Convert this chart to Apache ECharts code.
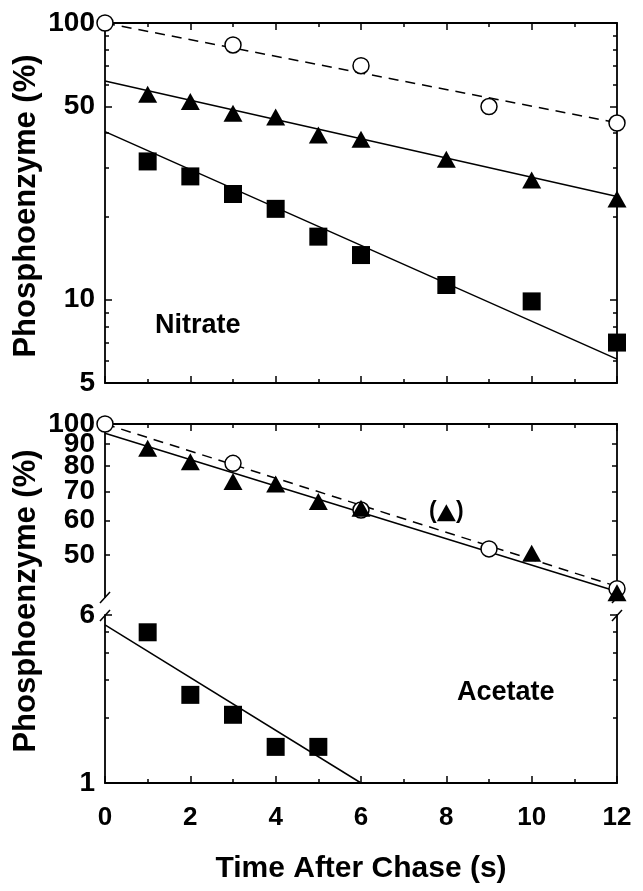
<!DOCTYPE html>
<html><head><meta charset="utf-8">
<script src="https://cdn.jsdelivr.net/npm/echarts@6/dist/echarts.min.js"></script>
<style>html,body{margin:0;padding:0;background:#fff}#c{width:643px;height:891px}</style>
</head><body><div id="c"></div>
<script>
// ---------- DATA ----------
// Nitrate panel
const nitCircles   = [[0,100],[3,83.3],[6,70.1],[9,49.9],[12,43.5]];
const nitCircleFit = [[0,100],[12,43.6]];
const nitTriangles = [[1,55.3],[2,52],[3,47.2],[4,45.7],[5,39.4],[6,38],[8,32.2],[10,27.1],[12,23.1]];
const nitTriFit    = [[0,61.7],[12,23.6]];
const nitSquares   = [[1,31.6],[2,27.9],[3,24.1],[4,21.3],[5,16.9],[6,14.5],[8,11.3],[10,9.86],[12,7.0]];
const nitSqFit     = [[0,40.5],[12,6.1]];
// Acetate panel (upper part)
const aceCircles   = [[0,100],[3,81.2],[6,63.4],[9,51.6],[12,41.8]];
const aceCircleFit = [[0,100],[12,42.3]];
const aceTriangles = [[1,87.9],[2,81.9],[3,73.7],[4,72.8],[5,66.3],[6,64],[10,50.4],[12,40.9]];
const aceTriExcluded = [[8,62.5]];
const aceTriFit    = [[0,95.2],[12,41.2]];
// Acetate panel (lower part)
const aceSquares   = [[1,4.99],[2,2.56],[3,2.07],[4,1.47],[5,1.47]];
const aceSqFit     = [[0,5.4],[6,1]];
// Ticks
const nitMajorTicks = [5,10,50,100];
const nitMinorTicks = [6,7,8,9,20,30,40,60,70,80,90];
const aceHighTicksA = [50,60,70,80,100];
const aceHighTicksB = [90];
const aceLowMajor   = [1,6];
const aceLowMinor   = [2,3,4,5];
const xMin = 0, xMax = 12, xStep = 2;
const yTitle = 'Phosphoenzyme (%)';
const xTitle = 'Time After Chase (s)';

// ---------- STYLE ----------
const FONT = 'Liberation Sans';
const BLK = '#000';
const axisLS = {color:BLK, width:1.8};
const tickLS = {color:BLK, width:1.5};

function yAx(grid, pos, min, max, ticks, len, showLabel, showLine){
  return {
    type:'log', logBase:10, gridIndex:grid, position:pos, min:min, max:max,
    axisLine:{show:showLine, onZero:false, lineStyle:axisLS},
    axisTick:{show:true, inside:true, length:len, customValues:ticks, lineStyle:tickLS},
    axisLabel:{show:showLabel, customValues:ticks, margin:10, fontFamily:FONT, fontWeight:'bold', fontSize:28, color:BLK,
      hideOverlap:false,
      formatter:function(v){return String(Math.round(v));}},
    splitLine:{show:false}, minorTick:{show:false}, minorSplitLine:{show:false}
  };
}
function xAx(grid, pos, showLabel){
  return {
    type:'value', gridIndex:grid, position:pos, min:xMin, max:xMax, interval:xStep,
    axisLine:{show:true, onZero:false, lineStyle:axisLS},
    axisTick:{show:true, inside:true, length:7, lineStyle:tickLS},
    minorTick:{show:true, splitNumber:2, length:4, lineStyle:tickLS},
    axisLabel:{show:showLabel, margin:22, fontFamily:FONT, fontWeight:'bold', fontSize:26, color:BLK,
      hideOverlap:false, showMinLabel:true, showMaxLabel:true},
    splitLine:{show:false}, minorSplitLine:{show:false}
  };
}

function fit(data, xi, yi, dashed){
  return {type:'line', xAxisIndex:xi, yAxisIndex:yi, data:data, symbol:'none', silent:true, clip:false, z:2,
    lineStyle:{color:BLK, width:1.5, type: dashed ? [10,7] : 'solid'}};
}
function pts(data, xi, yi, kind){
  const s = {type:'scatter', xAxisIndex:xi, yAxisIndex:yi, data:data, clip:false, z:5, silent:true};
  if (kind==='circle'){ s.symbol='circle'; s.symbolSize=16; s.itemStyle={color:'#fff', borderColor:BLK, borderWidth:1.5, opacity:1}; }
  if (kind==='tri'){ s.symbol='triangle'; s.symbolSize=[19,17]; s.itemStyle={color:BLK, opacity:1}; }
  if (kind==='sq'){ s.symbol='rect'; s.symbolSize=18; s.itemStyle={color:BLK, opacity:1}; }
  return s;
}

const L=105, R=643-617;
const TF = 'bold 31px "Liberation Sans"';
const option = {
  backgroundColor:'#fff',
  animation:false,
  grid:[
    {left:L, right:R, top:23, height:360},
    {left:L, right:R, top:424, height:173},
    {left:L, right:R, top:615, height:168}
  ],
  xAxis:[
    xAx(0,'bottom',false),
    xAx(0,'top',false),
    xAx(1,'top',false),
    xAx(2,'bottom',true)
  ],
  yAxis:[
    yAx(0,'left',5,100,nitMajorTicks,7,true,true),
    yAx(0,'left',5,100,nitMinorTicks,4,false,false),
    yAx(0,'right',5,100,nitMajorTicks,7,false,true),
    yAx(0,'right',5,100,nitMinorTicks,4,false,false),
    yAx(1,'left',40,100,aceHighTicksA,5,true,true),
    yAx(1,'right',40,100,aceHighTicksA.concat(aceHighTicksB),5,false,true),
    yAx(2,'left',1,6,aceLowMajor,7,true,true),
    yAx(2,'left',1,6,aceLowMinor,4,false,false),
    yAx(2,'right',1,6,aceLowMajor,7,false,true),
    yAx(2,'right',1,6,aceLowMinor,4,false,false),
    yAx(1,'left',40,100,aceHighTicksB,5,true,false)
  ],
  series:[
    fit(nitCircleFit,0,0,true), fit(nitTriFit,0,0,false), fit(nitSqFit,0,0,false),
    pts(nitCircles,0,0,'circle'), pts(nitTriangles,0,0,'tri'), pts(nitSquares,0,0,'sq'),
    fit(aceCircleFit,2,4,true), fit(aceTriFit,2,4,false),
    pts(aceCircles,2,4,'circle'), pts(aceTriangles,2,4,'tri'),
    Object.assign(pts(aceTriExcluded,2,4,'tri'), {label:{show:true, position:'inside', offset:[0,-1],
      formatter:'(   )', fontFamily:FONT, fontWeight:'bold', fontSize:23, color:BLK}}),
    fit(aceSqFit,3,6,false), pts(aceSquares,3,6,'sq')
  ],
  graphic:[
    {type:'text', x:26, y:206, rotation:Math.PI/2, style:{text:yTitle, font:TF, fill:BLK, align:'center', verticalAlign:'middle'}},
    {type:'text', x:26, y:601, rotation:Math.PI/2, style:{text:yTitle, font:TF, fill:BLK, align:'center', verticalAlign:'middle'}},
    {type:'text', x:361, y:869, style:{text:xTitle, font:'bold 30px "Liberation Sans"', fill:BLK, align:'center', verticalAlign:'middle'}},
    {type:'text', x:155, y:326, style:{text:'Nitrate', font:'bold 27px "Liberation Sans"', fill:BLK, align:'left', verticalAlign:'middle'}},
    {type:'text', x:457, y:693, style:{text:'Acetate', font:'bold 27px "Liberation Sans"', fill:BLK, align:'left', verticalAlign:'middle'}},
    {type:'line', shape:{x1:100,y1:603,x2:110,y2:592}, style:{stroke:BLK, lineWidth:1.5}},
    {type:'line', shape:{x1:100,y1:621,x2:110,y2:610}, style:{stroke:BLK, lineWidth:1.5}},
    {type:'line', shape:{x1:612,y1:603,x2:622,y2:592}, style:{stroke:BLK, lineWidth:1.5}},
    {type:'line', shape:{x1:612,y1:621,x2:622,y2:610}, style:{stroke:BLK, lineWidth:1.5}}
  ]
};
const chart = echarts.init(document.getElementById('c'), null, {renderer:'canvas'});
chart.setOption(option);
</script></body></html>
